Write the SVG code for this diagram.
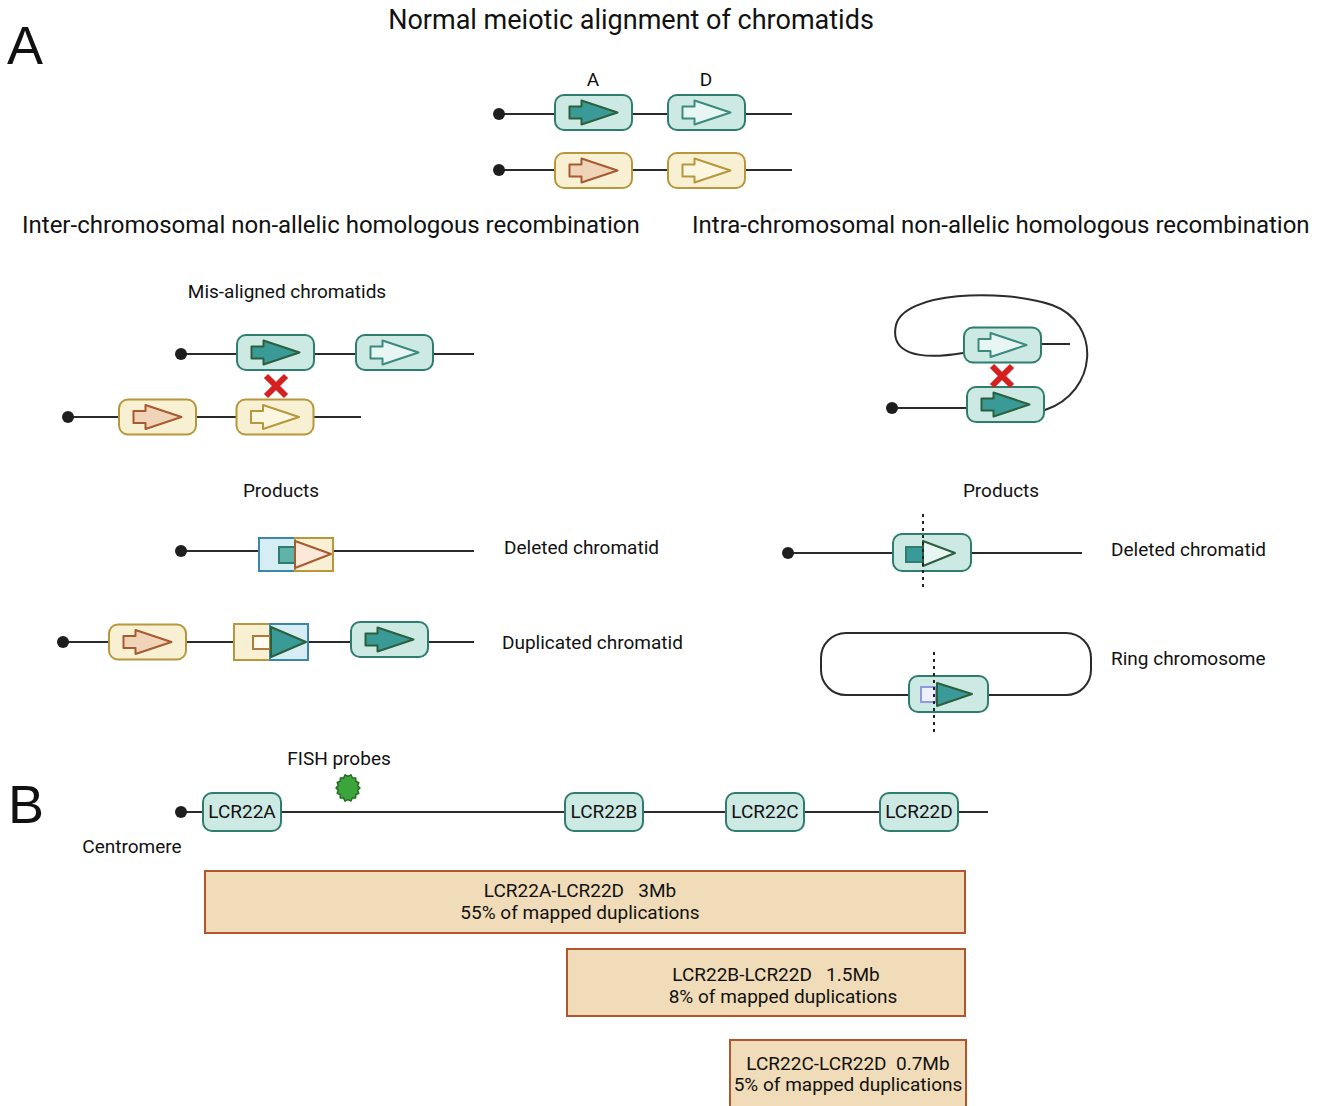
<svg xmlns="http://www.w3.org/2000/svg" xmlns:xlink="http://www.w3.org/1999/xlink" width="1325" height="1106" viewBox="0 0 1325 1106">
<style>
text{font-family:Roboto,"Liberation Sans",sans-serif;fill:#111}
.big{font-family:"Liberation Sans",Arial,sans-serif;font-size:54px}
.h1{font-size:27px}
.h2{font-size:24px}
.lb{font-size:19px}
.lcr{font-size:19px;text-anchor:middle}
.bt{font-size:19px;text-anchor:middle;white-space:pre}
.ln{stroke:#2b2b2b;stroke-width:2;fill:none}
.dot{fill:#1e1e1e}
.tb{fill:#cde9e4;stroke:#2e7d6e;stroke-width:2}
.yb{fill:#f8f0d2;stroke:#b8963c;stroke-width:2}
.af{fill:#3a9a98;stroke:#2c5f3c;stroke-width:2;stroke-linejoin:round}
.ah{fill:#e8f6f3;stroke:#3a8a80;stroke-width:2;stroke-linejoin:round}
.ao{fill:#f0d4b8;stroke:#a65a30;stroke-width:2;stroke-linejoin:round}
.ay{fill:#faf6e0;stroke:#b8963c;stroke-width:2;stroke-linejoin:round}
.bb{fill:#d6edf3;stroke:#3b87a8;stroke-width:2}
.cut{stroke:#222;stroke-width:2;stroke-dasharray:3,4}
.rx{stroke:#d62020;stroke-width:6;stroke-linecap:butt}
.bar{fill:#f0dcb8;stroke:#b0552c;stroke-width:2}
</style>
<defs>
<rect id="box" x="-38.5" y="-17.5" width="77" height="35" rx="9"/>
<path id="arr" d="M-24,-6 H-12 V-12 L24,0 L-12,12 V6 H-24 Z"/>
</defs>

<!-- Titles -->
<text class="big" x="7" y="64">A</text>
<text class="big" x="8" y="823">B</text>
<text class="h1" x="631" y="29" text-anchor="middle">Normal meiotic alignment of chromatids</text>
<text class="lb" x="593" y="86" text-anchor="middle">A</text>
<text class="lb" x="706" y="86" text-anchor="middle">D</text>
<text class="h2" x="22" y="233">Inter-chromosomal non-allelic homologous recombination</text>
<text class="h2" x="692" y="233">Intra-chromosomal non-allelic homologous recombination</text>
<text class="lb" x="287" y="298" text-anchor="middle">Mis-aligned chromatids</text>
<text class="lb" x="281" y="497" text-anchor="middle">Products</text>
<text class="lb" x="1001" y="497" text-anchor="middle">Products</text>
<text class="lb" x="504" y="554">Deleted chromatid</text>
<text class="lb" x="502" y="649">Duplicated chromatid</text>
<text class="lb" x="1111" y="556">Deleted chromatid</text>
<text class="lb" x="1111" y="665">Ring chromosome</text>
<text class="lb" x="339" y="765" text-anchor="middle">FISH probes</text>
<text class="lb" x="132" y="853" text-anchor="middle">Centromere</text>

<!-- Connectors (chromosome lines) -->
<g id="connectors">
<line class="ln" x1="499" y1="114" x2="792" y2="114"/>
<circle class="dot" cx="499" cy="114" r="6"/>
<line class="ln" x1="499" y1="170" x2="792" y2="170"/>
<circle class="dot" cx="499" cy="170" r="6"/>
<line class="ln" x1="181" y1="354" x2="474" y2="354"/>
<circle class="dot" cx="181" cy="354" r="6"/>
<line class="ln" x1="68" y1="417" x2="361" y2="417"/>
<circle class="dot" cx="68" cy="417" r="6"/>
<line class="ln" x1="892" y1="408" x2="966" y2="408"/>
<circle class="dot" cx="892" cy="408" r="6"/>
<line class="ln" x1="1042" y1="344" x2="1070" y2="344"/>
<path class="ln" d="M963,353 C915,361 890,352 896,325 C904,292 1000,288 1052,305 C1102,323 1098,392 1045,410"/>
<line class="ln" x1="181" y1="551" x2="474" y2="551"/>
<circle class="dot" cx="181" cy="551" r="6"/>
<line class="ln" x1="63" y1="642" x2="474" y2="642"/>
<circle class="dot" cx="63" cy="642" r="6"/>
<line class="ln" x1="788" y1="553" x2="1082" y2="553"/>
<circle class="dot" cx="788" cy="553" r="6"/>
<path class="ln" d="M909,695 H846 A25,25 0 0 1 821,670 V658 A25,25 0 0 1 846,633 H1066 A25,25 0 0 1 1091,658 V670 A25,25 0 0 1 1066,695 H988"/>
<line class="ln" x1="181" y1="812" x2="988" y2="812"/>
<circle class="dot" cx="181" cy="812" r="6"/>
</g>

<!-- Normal alignment -->
<g id="normal-A"><use href="#box" class="tb" x="593.5" y="112.5"/><use href="#arr" class="af" x="593.5" y="112.5"/></g>
<g id="normal-D"><use href="#box" class="tb" x="706.5" y="112.5"/><use href="#arr" class="ah" x="706.5" y="112.5"/></g>
<g id="normal-A2"><use href="#box" class="yb" x="593.5" y="170.5"/><use href="#arr" class="ao" x="593.5" y="170.5"/></g>
<g id="normal-D2"><use href="#box" class="yb" x="706.5" y="170.5"/><use href="#arr" class="ay" x="706.5" y="170.5"/></g>

<!-- Mis-aligned -->
<g id="mis-A"><use href="#box" class="tb" x="275.5" y="352.5"/><use href="#arr" class="af" x="275.5" y="352.5"/></g>
<g id="mis-D"><use href="#box" class="tb" x="394.5" y="352.5"/><use href="#arr" class="ah" x="394.5" y="352.5"/></g>
<g id="mis-A2"><use href="#box" class="yb" x="157.5" y="417"/><use href="#arr" class="ao" x="157.5" y="417"/></g>
<g id="mis-D2"><use href="#box" class="yb" x="275" y="417"/><use href="#arr" class="ay" x="275" y="417"/></g>
<g id="mis-cross"><line class="rx" x1="266" y1="376" x2="286" y2="396"/><line class="rx" x1="286" y1="376" x2="266" y2="396"/></g>

<!-- Intra -->
<g id="intra-D"><use href="#box" class="tb" x="1002.5" y="345"/><use href="#arr" class="ah" x="1002.5" y="345"/></g>
<g id="intra-A"><use href="#box" class="tb" x="1005.5" y="404.5"/><use href="#arr" class="af" x="1005.5" y="404.5"/></g>
<g id="intra-cross"><line class="rx" x1="992" y1="366" x2="1012" y2="386"/><line class="rx" x1="1012" y1="366" x2="992" y2="386"/></g>

<!-- Left products -->
<g id="del-left">
<rect class="bb" x="259" y="538" width="36" height="33"/>
<rect class="yb" x="295" y="538" width="38" height="33"/>
<rect x="279" y="547" width="16" height="16" style="fill:#5fb3a8;stroke:#2e7d6e;stroke-width:2"/>
<path d="M295,541 L331,554 L295,568 Z" style="fill:#fce8d8;stroke:#a65a30;stroke-width:2;stroke-linejoin:round"/>
</g>
<g id="dup-A2"><use href="#box" class="yb" x="147.5" y="642"/><use href="#arr" class="ao" x="147.5" y="642"/></g>
<g id="dup-hybrid">
<rect class="yb" x="234" y="624" width="36" height="36"/>
<rect class="bb" x="270" y="624" width="38" height="36"/>
<rect x="253" y="636" width="17" height="13" style="fill:#fffbee;stroke:#b07a3c;stroke-width:2"/>
<path class="af" d="M271,627 L306,642 L271,657 Z"/>
</g>
<g id="dup-A"><use href="#box" class="tb" x="389.5" y="639.5"/><use href="#arr" class="af" x="389.5" y="639.5"/></g>

<!-- Right products -->
<g id="del-right">
<rect class="tb" x="893" y="534" width="78" height="37" rx="9"/>
<rect x="906" y="547" width="17" height="15" style="fill:#3a9a98;stroke:#2e7d6e;stroke-width:2"/>
<path d="M923,541 L955,553 L923,566 Z" style="fill:#e8f6f3;stroke:#2c5f3c;stroke-width:2;stroke-linejoin:round"/>
<line class="cut" x1="923" y1="514" x2="923" y2="589"/>
</g>
<g id="ring">
<rect class="tb" x="909" y="676" width="79" height="36" rx="9"/>
<rect x="921" y="687" width="15" height="15" style="fill:#eef0fb;stroke:#8e9ade;stroke-width:2"/>
<path class="af" d="M937,683 L972,694 L937,706 Z"/>
<line class="cut" x1="934" y1="652" x2="934" y2="736"/>
</g>

<!-- B section -->
<g id="fish-probe">
<polygon points="360.0,788.0 357.6,790.3 358.8,793.4 355.8,794.7 355.6,798.0 352.4,798.0 350.9,801.0 348.0,799.6 345.0,801.1 343.6,798.1 340.3,797.9 340.2,794.6 337.2,793.2 338.4,790.1 336.0,787.9 338.4,785.6 337.2,782.5 340.2,781.2 340.4,777.9 343.6,777.9 345.1,774.9 348.0,776.3 351.0,774.8 352.4,777.8 355.7,778.0 355.8,781.3 358.8,782.7 357.6,785.8" style="fill:#3ba53b;stroke:#1e6e1e;stroke-width:1.5;stroke-linejoin:round"/>
</g>
<g id="LCR22A"><rect class="tb" x="203" y="793" width="78" height="38" rx="9"/><text class="lcr" x="242" y="818">LCR22A</text></g>
<g id="LCR22B"><rect class="tb" x="565" y="793" width="78" height="38" rx="9"/><text class="lcr" x="604" y="818">LCR22B</text></g>
<g id="LCR22C"><rect class="tb" x="726" y="793" width="78" height="38" rx="9"/><text class="lcr" x="765" y="818">LCR22C</text></g>
<g id="LCR22D"><rect class="tb" x="880" y="793" width="78" height="38" rx="9"/><text class="lcr" x="919" y="818">LCR22D</text></g>

<g id="bar-AD"><rect class="bar" x="205" y="871" width="760" height="62"/>
<text class="bt" x="580" y="897">LCR22A-LCR22D   3Mb</text>
<text class="bt" x="580" y="919">55% of mapped duplications</text></g>
<g id="bar-BD"><rect class="bar" x="567" y="949" width="398" height="67"/>
<text class="bt" x="776" y="981">LCR22B-LCR22D   1.5Mb</text>
<text class="bt" x="783" y="1003">8% of mapped duplications</text></g>
<g id="bar-CD"><rect class="bar" x="730" y="1040" width="236" height="70"/>
<text class="bt" x="848" y="1070">LCR22C-LCR22D  0.7Mb</text>
<text class="bt" x="848" y="1091">5% of mapped duplications</text></g>
</svg>
